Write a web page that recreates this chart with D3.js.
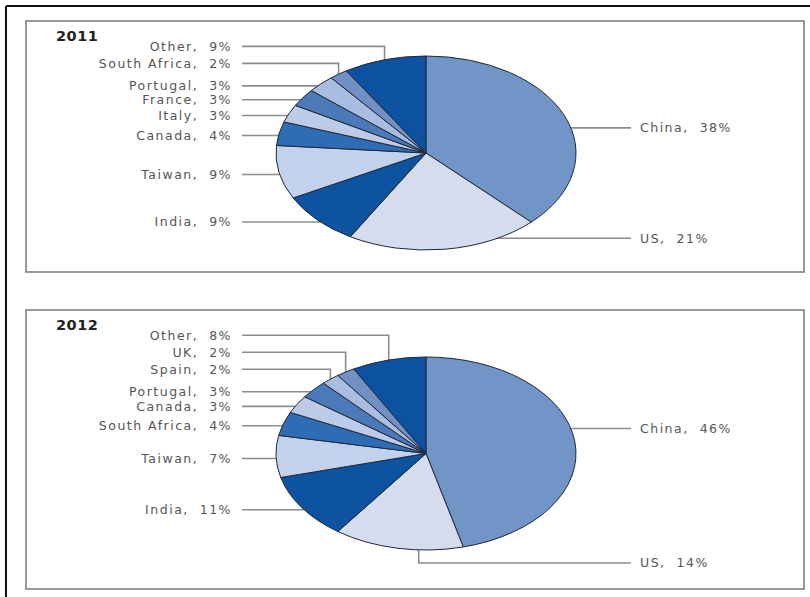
<!DOCTYPE html>
<html>
<head>
<meta charset="utf-8">
<script src="https://cdn.jsdelivr.net/npm/d3@7"></script>
<style>
  html, body { margin: 0; padding: 0; background: #fff; }
  svg { display: block; }
  text { font-family: "DejaVu Sans", sans-serif; white-space: pre; }
</style>
</head>
<body>
<svg id="chart" width="810" height="597"></svg>
<script>
// ---- data ----
const years = ["2011", "2012"];
const categories2011 = ["China", "US", "India", "Taiwan", "Canada", "Italy", "France", "Portugal", "South Africa", "Other"];
const values2011 = [38, 21, 9, 9, 4, 3, 3, 3, 2, 9];
const categories2012 = ["China", "US", "India", "Taiwan", "South Africa", "Canada", "Portugal", "Spain", "UK", "Other"];
const values2012 = [46, 14, 11, 7, 4, 3, 3, 2, 2, 8];
const percentLabels2011 = ["38%", "21%", "9%", "9%", "4%", "3%", "3%", "3%", "2%", "9%"];
const percentLabels2012 = ["46%", "14%", "11%", "7%", "4%", "3%", "3%", "2%", "2%", "8%"];

// ---- style ----
const palette = ["#7195c6", "#d5dcee", "#0d53a0", "#c3d2ec", "#2e6cb5", "#bccbe8", "#4b79b9", "#a8bde0", "#7290c4", "#0c52a0"];
const colorScale = d3.scaleOrdinal().domain(d3.range(10)).range(palette);

const svg = d3.select("#chart");
const W = 810, H = 597;

// outer frame (top + left edges)
svg.append("line").attr("x1", 6).attr("y1", 6).attr("x2", W).attr("y2", 6)
  .attr("stroke", "#111").attr("stroke-width", 2);
svg.append("line").attr("x1", 6).attr("y1", 6).attr("x2", 6).attr("y2", H)
  .attr("stroke", "#111").attr("stroke-width", 2);

const panels = [
  { year: years[0], cats: categories2011, vals: values2011, pct: percentLabels2011, top: 21, bottom: 272, centerOffset: 132, ry: 97 },
  { year: years[1], cats: categories2012, vals: values2012, pct: percentLabels2012, top: 310, bottom: 589, centerOffset: 143.5, ry: 96.5 }
];

const panelLeft = 26, panelRight = 804;
const cx = 426, rx = 150;
const leftLineX = 242, leftTextX = 232, rightLineX = 631, rightTextX = 640;
const lineColor = "#8c8c8c", textColor = "#555555";

panels.forEach(p => {
  const g = svg.append("g");
  g.append("rect")
    .attr("x", panelLeft).attr("y", p.top)
    .attr("width", panelRight - panelLeft).attr("height", p.bottom - p.top)
    .attr("fill", "#fff").attr("stroke", "#808080").attr("stroke-width", 1.6);

  g.append("text").attr("x", 56).attr("y", p.top + 20)
    .attr("font-size", 14.5).attr("font-weight", "bold").attr("fill", "#222")
    .attr("letter-spacing", 0.5).text(p.year);

  const cy = p.top + p.centerOffset;
  const ry = p.ry;

  const data = p.cats.map((c, i) => ({ cat: c, v: p.vals[i], pct: p.pct[i], i }));
  const arcs = d3.pie().sort(null).value(d => d.v)(data);

  const pt = (a) => [cx + rx * Math.sin(a), cy - ry * Math.cos(a)];
  const edgeXLeft = (y) => cx - rx * Math.sqrt(Math.max(0, 1 - ((y - cy) / ry) ** 2));
  const edgeXRight = (y) => cx + rx * Math.sqrt(Math.max(0, 1 - ((y - cy) / ry) ** 2));

  const lines = g.append("g").attr("fill", "none").attr("stroke", lineColor).attr("stroke-width", 1.6);
  const labels = g.append("g").attr("font-size", 12.5).attr("fill", textColor).attr("letter-spacing", 1.5);

  // ---- right side callouts (slices starting on the right half) ----
  arcs.forEach(a => {
    if (a.startAngle >= Math.PI) return;
    let path, ly;
    if (a.index === 0) {
      const [, y] = pt(Math.PI * 5 / 12);
      ly = y;
      path = [[edgeXRight(ly), ly], [rightLineX, ly]];
    } else {
      const ang = a.startAngle + 0.25 * (a.endAngle - a.startAngle);
      const [x, y] = pt(ang);
      if ((y - cy) / ry > 0.95) {
        ly = cy + ry + 13;
        const ex = x - 12;
        path = [[ex, cy + ry * Math.sqrt(1 - ((ex - cx) / rx) ** 2)], [ex, ly], [rightLineX, ly]];
      } else {
        ly = y - 2;
        path = [[edgeXRight(ly), ly], [rightLineX, ly]];
      }
    }
    lines.append("path").attr("d", d3.line()(path));
    labels.append("text").attr("x", rightTextX).attr("y", ly).attr("dy", "0.35em")
      .text(a.data.cat + ",  " + a.data.pct);
  });

  // ---- left side callouts ----
  let prevY = null, elbow = false, firstElbow = true;
  arcs.forEach(a => {
    if (a.startAngle < Math.PI) return;
    const mid = (a.startAngle + a.endAngle) / 2;
    const [ax, ay] = pt(mid);
    let ly = ay + 2;
    if (!elbow && prevY !== null && prevY - ly < 12) elbow = true;
    let path;
    if (elbow) {
      ly = prevY - (firstElbow ? 22.5 : 17);
      firstElbow = false;
      path = [[leftLineX, ly], [ax, ly], [ax, ay]];
    } else {
      path = [[leftLineX, ly], [edgeXLeft(ly), ly]];
    }
    prevY = ly;
    lines.append("path").attr("d", d3.line()(path));
    labels.append("text").attr("x", leftTextX).attr("y", ly).attr("dy", "0.35em")
      .attr("text-anchor", "end")
      .text(a.data.cat + ",  " + a.data.pct);
  });

  // ---- pie ----
  const arcGen = d3.arc().innerRadius(0).outerRadius(rx);
  const pieG = g.append("g").attr("transform", `translate(${cx},${cy}) scale(1,${ry / rx})`);
  pieG.selectAll("path").data(arcs).join("path")
    .attr("d", arcGen)
    .attr("fill", d => colorScale(d.index))
    .attr("stroke", "#1e2838")
    .attr("stroke-width", 1)
    .attr("stroke-linejoin", "round")
    .attr("vector-effect", "non-scaling-stroke");
});
</script>
</body>
</html>
